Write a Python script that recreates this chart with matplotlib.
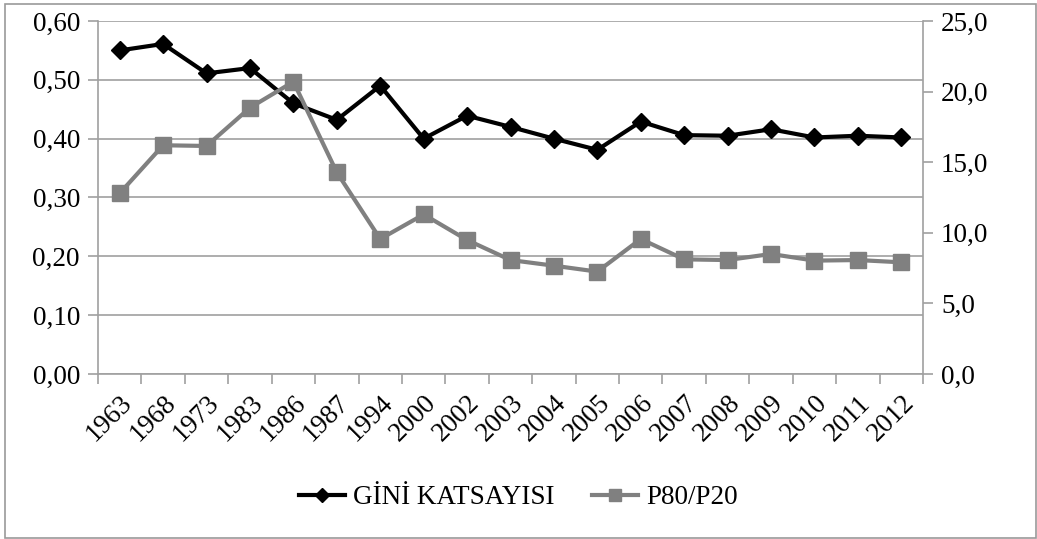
import matplotlib
matplotlib.use("Agg")
import matplotlib.pyplot as plt
import matplotlib.transforms as mtransforms
from matplotlib.ticker import FuncFormatter, MultipleLocator, FixedLocator
import numpy as np

years = ["1963", "1968", "1973", "1983", "1986", "1987", "1994", "2000", "2002", "2003",
         "2004", "2005", "2006", "2007", "2008", "2009", "2010", "2011", "2012"]
gini = [0.55, 0.561, 0.511, 0.52, 0.46, 0.432, 0.49, 0.40, 0.439, 0.42,
        0.40, 0.381, 0.429, 0.406, 0.405, 0.416, 0.402, 0.405, 0.402]
p80p20 = [12.8, 16.2, 16.15, 18.86, 20.7, 14.28, 9.56, 11.3, 9.49, 8.07,
          7.67, 7.25, 9.56, 8.12, 8.07, 8.5, 8.03, 8.07, 7.91]

plt.rcParams["font.family"] = ["Liberation Serif", "DejaVu Serif"]
fs = 19.5
grey = "#a0a0a0"

fig = plt.figure(figsize=(10.37, 5.39), dpi=100)
# outer chart border
fig.patches.append(plt.Rectangle((5 / 1037, 1 / 539), 1031 / 1037, 534 / 539,
                                 transform=fig.transFigure, fill=False,
                                 edgecolor="#9a9a9a", linewidth=1.2))

ax = fig.add_axes([98 / 1037, 1 - 374 / 539, 825 / 1037, 353 / 539])
ax2 = ax.twinx()

x = np.arange(len(years))
ax.plot(x, gini, color="black", linewidth=3, marker="D", markersize=9,
        label="GİNİ KATSAYISI", zorder=4)
ax2.plot(x, p80p20, color="#808080", linewidth=3, marker="s", markersize=11,
         label="P80/P20", zorder=3)

ax.set_xlim(-0.5, len(years) - 0.5)
ax.set_ylim(0, 0.6)
ax2.set_ylim(0, 25)
ax.yaxis.set_major_locator(MultipleLocator(0.1))
ax2.yaxis.set_major_locator(MultipleLocator(5))
ax.yaxis.set_major_formatter(FuncFormatter(lambda v, p: f"{v:.2f}".replace(".", ",")))
ax2.yaxis.set_major_formatter(FuncFormatter(lambda v, p: f"{v:.1f}".replace(".", ",")))

ax.set_xticks(x)
ax.set_xticklabels(years, rotation=45, ha="right", rotation_mode="anchor", fontsize=fs)
shift = mtransforms.ScaledTranslation(-8 / 100, 0, fig.dpi_scale_trans)
for lab in ax.get_xticklabels():
    lab.set_transform(lab.get_transform() + shift)
ax.xaxis.set_minor_locator(FixedLocator(np.arange(-0.5, len(years), 1)))
ax.tick_params(axis="x", which="major", length=0, pad=12)
ax.tick_params(axis="x", which="minor", length=7, color=grey, width=1.2)
ax.tick_params(axis="y", length=7, color=grey, width=1.2, labelsize=fs, pad=6)
ax2.tick_params(axis="y", length=7, color=grey, width=1.2, labelsize=fs, pad=6)

ax.grid(axis="y", color=grey, linewidth=1.2)
ax.set_axisbelow(True)
for a in (ax, ax2):
    a.spines["top"].set_visible(False)
    for s in ("left", "right", "bottom"):
        a.spines[s].set_color(grey)
        a.spines[s].set_linewidth(1.2)
ax.spines["right"].set_visible(False)
ax2.spines["left"].set_visible(False)
ax2.spines["bottom"].set_visible(False)

h1, l1 = ax.get_legend_handles_labels()
h2, l2 = ax2.get_legend_handles_labels()
fig.legend(h1 + h2, l1 + l2, loc="center", bbox_to_anchor=(0.5, 1 - 498 / 539),
           ncol=2, frameon=False, fontsize=fs, handlelength=1.7, columnspacing=1.4,
           handletextpad=0.3, markerscale=0.8)

fig.savefig("out.png", dpi=100)
